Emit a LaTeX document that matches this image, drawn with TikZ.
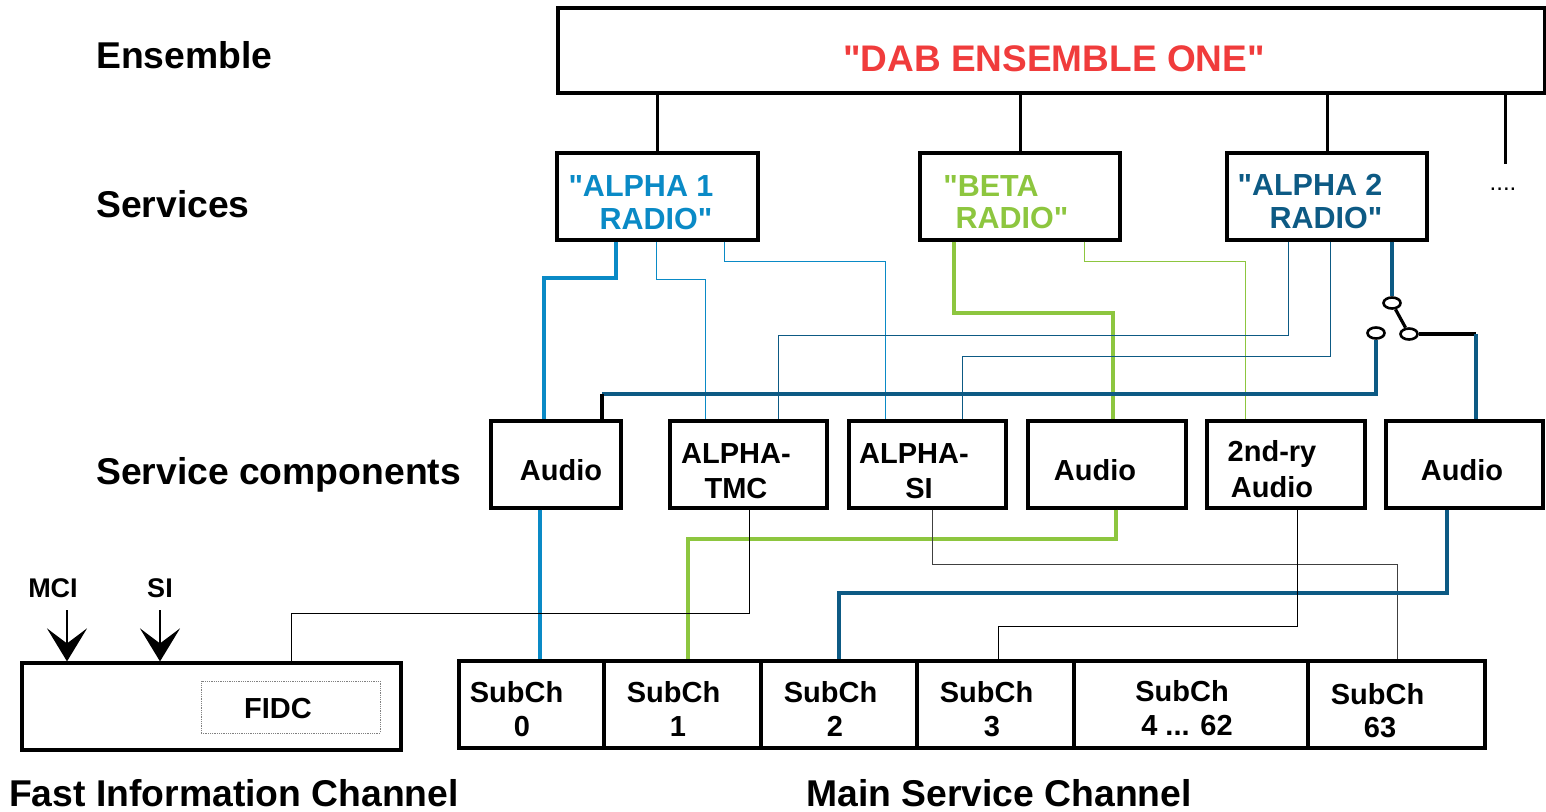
\documentclass[tikz,border=0pt]{standalone}
\usepackage{fontspec}
\setmainfont{Liberation Sans}[Ligatures=TeXOff]
\usetikzlibrary{arrows.meta,shapes.geometric}

\definecolor{dabred}{HTML}{F03C3C}
\definecolor{alphaone}{HTML}{0A8AC6}
\definecolor{betagreen}{HTML}{8DC63F}
\definecolor{alphatwo}{HTML}{0D5A84}

\begin{document}
\begin{tikzpicture}[x=1pt,y=-1pt,
  box/.style={draw, line width=3.2pt, inner sep=0pt},
  chbox/.style={box, minimum height=87pt},
  lbl/.style={font=\fontsize{37.3}{44}\selectfont\bfseries, inner sep=0pt, anchor=base west},
  svctext/.style={font=\fontsize{30.5}{36}\selectfont\bfseries, inner sep=0pt, anchor=base},
  cmptext/.style={font=\fontsize{29}{34}\selectfont\bfseries, inner sep=0pt, anchor=base},
  tree/.style={line width=3pt},
  thk/.style={line width=3.2pt},
  thn/.style={line width=1pt},
  swnode/.style={ellipse, draw, line width=2.6pt, fill=white, minimum width=17pt, minimum height=11pt, inner sep=0pt},
  inarrow/.style={line width=2.8pt, -{Stealth[length=33pt, width=40pt, inset=15pt]}}
]
\useasboundingbox (0,0) rectangle (1546,811);

% ---------------- row labels ----------------
\node[lbl] (lEns)  at (96,68)  {Ensemble};
\node[lbl] (lSvc)  at (96,217) {Services};
\node[lbl] (lComp) at (96,484) {Service components};
\node[lbl] (lFIC)  at (9,806)  {Fast Information Channel};
\node[lbl] (lMSC)  at (806,806) {Main Service Channel};

% ---------------- ensemble ----------------
\node[box, line width=3.6pt, minimum width=987pt, minimum height=85pt] (ens) at (1051.5,50.5) {};
\node[font=\fontsize{37}{44}\selectfont\bfseries, text=dabred, inner sep=0pt, anchor=base] (tEns) at (1054,71) {"DAB ENSEMBLE ONE"};

% ---------------- services ----------------
\node[box, minimum width=201pt, minimum height=87pt] (a1)   at (657.5,196.5) {};
\node[box, minimum width=200pt, minimum height=87pt] (beta) at (1020,196.5) {};
\node[box, minimum width=200pt, minimum height=87pt] (a2)   at (1327,196.5) {};

\node[svctext, text=alphaone] (ta1a) at (641,196) {"ALPHA 1};
\node[svctext, text=alphaone] (ta1b) at (656,229) {RADIO"};
\node[svctext, text=betagreen] (tba) at (991,196) {"BETA};
\node[svctext, text=betagreen] (tbb) at (1012,228) {RADIO"};
\node[svctext, text=alphatwo] (ta2a) at (1310,195) {"ALPHA 2};
\node[svctext, text=alphatwo] (ta2b) at (1326,228) {RADIO"};

\draw[tree] (ens.south -| a1.north) -- (a1.north);
\draw[tree] (ens.south -| beta.north) -- (beta.north);
\draw[tree] (ens.south -| a2.north) -- (a2.north);
\coordinate (more) at (1505,164);
\draw[tree] (ens.south -| more) -- (more);
\node[font=\fontsize{24}{28}\selectfont, inner sep=0pt, anchor=base] (tMore) at (1503,190) {....};

% ---------------- service components ----------------
\node[chbox, minimum width=130pt] (au1) at (556,464.5) {};
\node[chbox, minimum width=157pt] (tmc) at (748.5,464.5) {};
\node[chbox, minimum width=157pt] (si)  at (927.5,464.5) {};
\node[chbox, minimum width=158pt] (au2) at (1107,464.5) {};
\node[chbox, minimum width=158pt] (sec) at (1286,464.5) {};
\node[chbox, minimum width=157pt] (au3) at (1464.5,464.5) {};

\node[cmptext] (tau1)  at (561,480)  {Audio};
\node[cmptext] (ttmca) at (736,463)  {ALPHA-};
\node[cmptext] (ttmcb) at (736,498)  {TMC};
\node[cmptext] (tsia)  at (914,463)  {ALPHA-};
\node[cmptext] (tsib)  at (919,498)  {SI};
\node[cmptext] (tau2)  at (1095,480) {Audio};
\node[cmptext] (tseca) at (1272,461) {2nd-ry};
\node[cmptext] (tsecb) at (1272,497) {Audio};
\node[cmptext] (tau3)  at (1462,480) {Audio};

% ---------------- sub-channels ----------------
\node[chbox, minimum width=145pt] (sc0)  at (531.5,704.5) {};
\node[chbox, minimum width=157pt] (sc1)  at (682.5,704.5) {};
\node[chbox, minimum width=156pt] (sc2)  at (839,704.5) {};
\node[chbox, minimum width=157pt] (sc3)  at (995.5,704.5) {};
\node[chbox, minimum width=234pt] (sc4)  at (1191,704.5) {};
\node[chbox, minimum width=177pt] (sc63) at (1396.5,704.5) {};

\node[cmptext] (tsc0a)  at (516.5,702) {SubCh};
\node[cmptext] (tsc0b)  at (522,736)   {0};
\node[cmptext] (tsc1a)  at (673.5,702) {SubCh};
\node[cmptext] (tsc1b)  at (678,736)   {1};
\node[cmptext] (tsc2a)  at (830.5,702) {SubCh};
\node[cmptext] (tsc2b)  at (835,736)   {2};
\node[cmptext] (tsc3a)  at (986.5,702) {SubCh};
\node[cmptext] (tsc3b)  at (992,736)   {3};
\node[cmptext] (tsc4a)  at (1182,701)  {SubCh};
\node[cmptext] (tsc4b)  at (1187,735)  {4 ... 62};
\node[cmptext] (tsc63a) at (1377.5,704) {SubCh};
\node[cmptext] (tsc63b) at (1380,737)  {63};

% ---------------- fast information channel ----------------
\node[chbox, minimum width=379pt] (fic) at (211.5,706.5) {};
\node[draw=gray, densely dotted, line width=0.8pt, minimum width=179pt, minimum height=52pt, inner sep=0pt] (fidc) at (290.5,707) {};
\node[cmptext] (tfidc) at (278,718) {FIDC};

\node[font=\fontsize{27}{31}\selectfont\bfseries, inner sep=0pt, anchor=base] (tmci) at (53,597) {MCI};
\node[font=\fontsize{27}{31}\selectfont\bfseries, inner sep=0pt, anchor=base] (tsi)  at (160,597) {SI};
\coordinate (mciTop) at (67,610);
\coordinate (siTop)  at (160,610);
\draw[inarrow] (mciTop) -- (fic.north -| mciTop);
\draw[inarrow] (siTop) -- (fic.north -| siTop);

% ---------------- service -> component links ----------------
\draw[thk, alphaone] (a1.south -| 616,0) |- (544,278) -- (au1.north -| 544,0);
\draw[thn, alphaone] (a1.south -| 656,0) |- (705,279) -- (tmc.north -| 705,0);
\draw[thn, alphaone] (a1.south -| 724,0) |- (885,261) -- (si.north -| 885,0);

\draw[thk, betagreen] (beta.south -| 954,0) |- (1113,313) -- (au2.north -| 1113,0);
\draw[thn, betagreen] (beta.south -| 1084,0) |- (1245,261) -- (sec.north -| 1245,0);

\draw[thn, alphatwo] (a2.south -| 1288,0) |- (778,335) -- (tmc.north -| 778,0);
\draw[thn, alphatwo] (a2.south -| 1330,0) |- (962,356) -- (si.north -| 962,0);

% change-over switch between the two audio components
\node[swnode] (sw1) at (1392,303) {};
\node[swnode] (sw2) at (1409,334) {};
\node[swnode] (sw3) at (1376,333) {};
\coordinate (swOut) at (1476,334);
\coordinate (swIn)  at (602,394);
\draw[thk, alphatwo] (a2.south -| sw1) -- (sw1.north);
\draw[thk] (sw1) -- (sw2);
\draw[thk] (sw2.east) -- (swOut);
\draw[thk, alphatwo] (swOut) -- (au3.north -| swOut);
\draw[thk, alphatwo] (sw3.south) |- (swIn);
\draw[thk] (swIn) -- (au1.north -| swIn);

% ---------------- component -> sub-channel links ----------------
\draw[thk, alphaone] (au1.south -| 540,0) -- (sc0.north -| 540,0);
\draw[thk, betagreen] (au2.south -| 1116,0) |- (688,539) -- (sc1.north -| 688,0);
\draw[thn, black!75] (si.south -| 932,0) |- (1397,564) -- (sc63.north -| 1397,0);
\draw[thk, alphatwo] (au3.south -| 1447,0) |- (839,593) -- (sc2.north -| 839,0);
\draw[thn] (sec.south -| 1297,0) |- (998,626) -- (sc3.north -| 998,0);
\draw[thn] (tmc.south -| 749,0) |- (291,613) -- (fic.north -| 291,0);

\end{tikzpicture}
\end{document}
